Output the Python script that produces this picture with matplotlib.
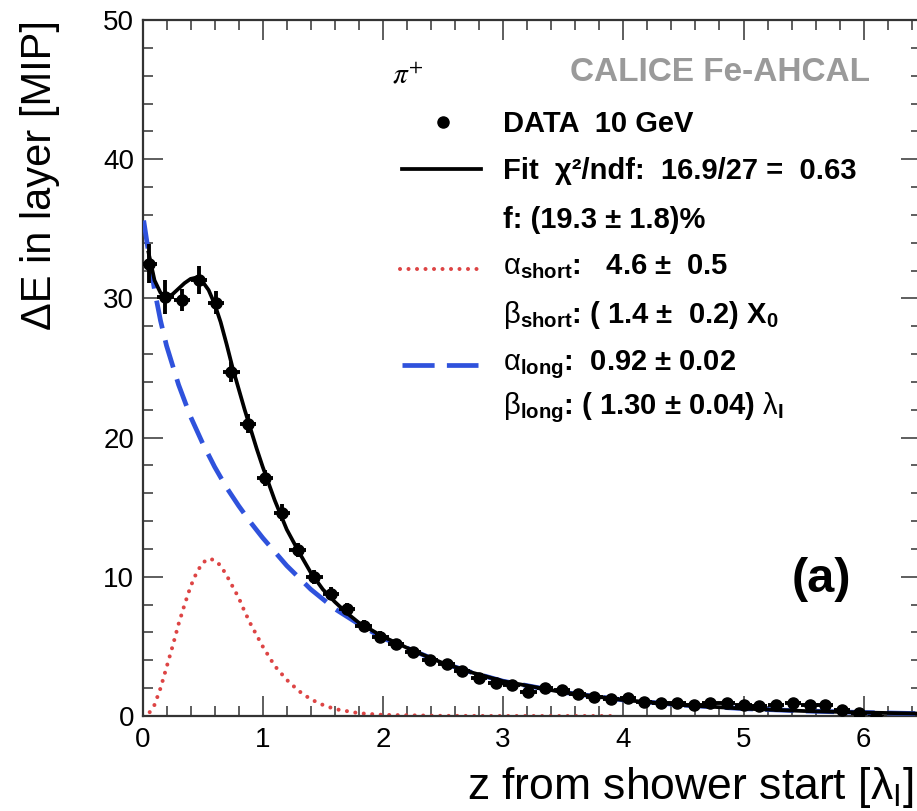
import matplotlib
matplotlib.use("Agg")
import matplotlib.pyplot as plt
from matplotlib.lines import Line2D
from matplotlib.ticker import MultipleLocator

plt.rcParams['font.family'] = ['Liberation Sans', 'DejaVu Sans']
plt.rcParams['mathtext.fontset'] = 'custom'
plt.rcParams['mathtext.rm'] = 'Liberation Sans'
plt.rcParams['mathtext.it'] = 'Liberation Sans:italic'
plt.rcParams['mathtext.bf'] = 'Liberation Sans:bold'
plt.rcParams['mathtext.sf'] = 'Liberation Sans'

# ---------------- data ----------------
layer_z = [0.05, 0.19, 0.33, 0.47, 0.61, 0.74, 0.88, 1.02, 1.16, 1.29,
           1.43, 1.57, 1.70, 1.84, 1.98, 2.11, 2.25, 2.39, 2.53, 2.66,
           2.80, 2.94, 3.07, 3.21, 3.35, 3.49, 3.62, 3.76, 3.90, 4.04,
           4.17, 4.31, 4.45, 4.59, 4.72, 4.86, 5.00, 5.13, 5.27, 5.41,
           5.55, 5.68, 5.82, 5.96, 6.10]
dE = [32.5, 30.1, 29.9, 31.3, 29.7, 24.7, 21.0, 17.1, 14.6, 11.9,
      10.0, 8.8, 7.7, 6.5, 5.7, 5.2, 4.6, 4.0, 3.7, 3.2,
      2.7, 2.4, 2.2, 1.7, 2.0, 1.9, 1.6, 1.4, 1.2, 1.3,
      1.0, 0.9, 0.9, 0.8, 0.9, 0.9, 0.8, 0.7, 0.8, 0.9,
      0.8, 0.8, 0.4, 0.2, -0.1]
dE_err = [1.4, 1.2, 0.8, 1.0, 0.8, 0.7, 0.7, 0.6, 0.6, 0.5,
          0.5, 0.5, 0.4, 0.4, 0.4, 0.35, 0.35, 0.35, 0.3, 0.3,
          0.3, 0.3, 0.3, 0.3, 0.3, 0.3, 0.3, 0.3, 0.3, 0.3,
          0.3, 0.3, 0.3, 0.3, 0.3, 0.3, 0.3, 0.3, 0.3, 0.3,
          0.3, 0.3, 0.3, 0.3, 0.3]
z_half_width = 0.068

fit_z = [0.05, 0.1, 0.15, 0.2, 0.25, 0.3, 0.35, 0.4, 0.45, 0.5,
         0.55, 0.6, 0.65, 0.7, 0.75, 0.8, 0.85, 0.9, 0.95, 1.0,
         1.1, 1.2, 1.3, 1.4, 1.5, 1.6, 1.7, 1.8, 2.0, 2.25,
         2.5, 2.75, 3.0, 3.5, 4.0, 4.5, 5.0, 5.5, 6.0, 6.48]
fit_total = [33.3, 31.3, 30.4, 30.1, 30.3, 30.7, 31.1, 31.4, 31.5, 31.2,
             30.6, 29.6, 28.3, 26.7, 25.0, 23.5, 22.0, 20.6, 19.2, 17.9,
             15.5, 13.4, 11.8, 10.3, 9.1, 8.2, 7.4, 6.7, 5.7, 4.7,
             3.8, 3.1, 2.5, 1.7, 1.15, 0.78, 0.53, 0.36, 0.25, 0.17]

long_z = [0.01, 0.05, 0.1, 0.15, 0.2, 0.3, 0.4, 0.5, 0.6, 0.7,
          0.8, 0.9, 1.0, 1.2, 1.4, 1.6, 1.8, 2.0, 2.25, 2.5,
          2.75, 3.0, 3.5, 4.0, 4.5, 5.0, 5.5, 6.0, 6.48]
long_comp = [35.6, 33.3, 30.6, 28.4, 26.6, 23.8, 21.5, 19.6, 17.9, 16.4,
             15.1, 13.9, 12.8, 10.8, 9.1, 7.7, 6.6, 5.6, 4.7, 3.8,
             3.1, 2.5, 1.7, 1.15, 0.78, 0.53, 0.36, 0.25, 0.17]

short_z = [0.0, 0.05, 0.1, 0.15, 0.2, 0.25, 0.3, 0.35, 0.4, 0.45,
           0.5, 0.55, 0.6, 0.65, 0.7, 0.75, 0.8, 0.85, 0.9, 0.95,
           1.0, 1.1, 1.2, 1.3, 1.4, 1.5, 1.6, 1.8, 2.0, 2.5,
           3.0, 3.5, 3.9]
short_comp = [0.0, 0.15, 0.8, 2.0, 3.5, 5.0, 6.6, 8.0, 9.3, 10.3,
              11.0, 11.3, 11.2, 10.8, 10.1, 9.3, 8.5, 7.5, 6.6, 5.8,
              5.0, 3.6, 2.6, 1.8, 1.2, 0.8, 0.5, 0.2, 0.08, 0.01,
              0.0, 0.0, 0.0]

x_ticks = [0, 1, 2, 3, 4, 5, 6]
y_ticks = [0, 10, 20, 30, 40, 50]

# ---------------- figure ----------------
W, H = 917, 811
fig = plt.figure(figsize=(W / 100, H / 100), dpi=100)

def fx(px):
    return px / W

def fy(py):
    return 1 - py / H

x_left, x_unit = 142.5, 120.2
y_bot, y_top = 716, 20
xmax = 6.48
ax = fig.add_axes([fx(x_left), fy(y_bot), xmax * x_unit / W, (y_bot - y_top) / H])
ax.set_xlim(0, xmax)
ax.set_ylim(0, 50)

RED = '#dd4444'
BLUE = '#2f52dc'
RED_LS = (0, (0.01, 2.1))

ax.plot(short_z, short_comp, color=RED, lw=2.9, linestyle=RED_LS,
        dash_capstyle='round', solid_capstyle='round', zorder=2)
ax.plot(long_z, long_comp, color=BLUE, lw=3.4, linestyle=(0, (6, 2.6)), zorder=3)
ax.plot(fit_z, fit_total, color='black', lw=2.7, zorder=4)
ax.errorbar(layer_z, dE, yerr=dE_err, xerr=z_half_width, fmt='o', color='black',
            markersize=8, elinewidth=2.8, capsize=0, zorder=5)

ax.set_xticks(x_ticks)
ax.set_yticks(y_ticks)
ax.xaxis.set_minor_locator(MultipleLocator(0.2))
ax.yaxis.set_minor_locator(MultipleLocator(2))
ax.tick_params(which='both', direction='in', top=True, right=True,
               colors='#333333', labelcolor='black', width=1.1)
ax.tick_params(which='major', length=14.5, labelsize=20)
ax.tick_params(which='minor', length=7)
ax.tick_params(axis='y', pad=6)
ax.tick_params(axis='x', pad=8)
for s in ax.spines.values():
    s.set_color('#333333')
    s.set_linewidth(1.6)

# axis titles (ROOT style, aligned to the axis ends)
fig.text(fx(40), fy(20), 'ΔE in layer [MIP]', rotation=90, ha='center', va='top',
         fontsize=30)
fig.text(fx(914), fy(799), r'z from shower start [$\mathrm{\lambda}_{\mathrm{I}}$]',
         ha='right', va='baseline', fontsize=32)

# labels in the plot
fig.text(fx(870), fy(81), 'CALICE Fe-AHCAL', ha='right', va='baseline',
         fontsize=24, fontweight='bold', color='#9a9a9a')
fig.text(fx(408), fy(76), r'$\pi^{+}$', ha='center', va='center', fontsize=21,
         math_fontfamily='stix')
fig.text(fx(821), fy(580), '(a)', ha='center', va='center', fontsize=35,
         fontweight='bold')

# legend entries
tx = fx(503)
lfs = 21
rows = [
    (132, 'DATA  10 GeV'),
    (179, 'Fit  χ²/ndf:  16.9/27 =  0.63'),
    (228, 'f: (19.3 ± 1.8)%'),
    (274, r'$\mathrm{\alpha}_{\mathbf{short}}$:   4.6 ±  0.5'),
    (323, r'$\mathrm{\beta}_{\mathbf{short}}$: ( 1.4 ±  0.2) X$_{\mathbf{0}}$'),
    (370, r'$\mathrm{\alpha}_{\mathbf{long}}$:  0.92 ± 0.02'),
    (414, r'$\mathrm{\beta}_{\mathbf{long}}$: ( 1.30 ± 0.04) $\mathrm{\lambda}_{\mathbf{I}}$'),
]
for py, s in rows:
    fig.text(tx, fy(py), s, ha='left', va='baseline', fontsize=lfs, fontweight='bold')

fig.add_artist(Line2D([fx(442.5)], [fy(121.6)], marker='o', color='black',
                      markersize=8, linestyle='none'))
fig.add_artist(Line2D([fx(402), fx(481)], [fy(169), fy(169)], color='black', lw=2.7))
fig.add_artist(Line2D([fx(400), fx(483)], [fy(268.6), fy(268.6)], color=RED, lw=2.9,
                      linestyle=RED_LS, dash_capstyle='round'))
fig.add_artist(Line2D([fx(402), fx(478)], [fy(365), fy(365)], color=BLUE, lw=3.4,
                      linestyle=(0, (6.8, 2.6))))

fig.savefig('out.png', dpi=100)
